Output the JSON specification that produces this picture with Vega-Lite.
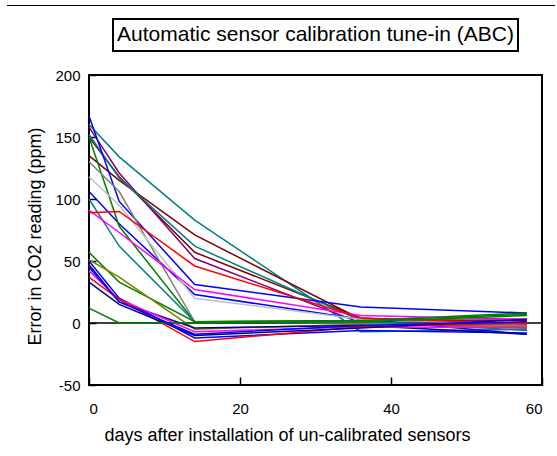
{
  "$schema": "https://vega.github.io/schema/vega-lite/v6.json",
  "background": "white",
  "autosize": {"type": "pad"},
  "padding": {"left": 7, "top": 5, "right": 0, "bottom": 0},
  "config": {
    "font": "Liberation Sans",
    "view": {"stroke": "black", "strokeWidth": 2},
    "axis": {"grid": false, "domain": false, "labelColor": "black", "titleColor": "black", "tickColor": "black", "labelFont": "Liberation Sans", "titleFont": "Liberation Sans", "titleFontWeight": "normal"}
  },
  "vconcat": [
    {"width": 548, "height": 1, "view": {"stroke": null, "fill": "black"}, "data": {"values": []}, "mark": "point"},
    {
      "hconcat": [
        {"width": 1, "height": 1, "view": {"stroke": null}, "data": {"values": []}, "mark": "point"},
        {
          "vconcat": [
            {
              "width": 405, "height": 32,
              "view": {"stroke": "black", "strokeWidth": 2},
              "data": {"values": [{"t": "Automatic sensor calibration tune-in (ABC)"}]},
              "mark": {"type": "text", "fontSize": 21, "font": "Liberation Sans", "color": "black", "align": "center", "baseline": "middle"},
              "encoding": {"text": {"field": "t"}}
            },
            {
              "width": 453, "height": 310,
              "view": {"stroke": "black", "strokeWidth": 2},
              "layer": [
                {
                  "data": {"values": [{}]},
                  "mark": {"type": "rule", "color": "black", "strokeWidth": 1.5},
                  "encoding": {"y": {"datum": 0, "type": "quantitative"}}
                },
                {
                  "data": {"values": [
                    {"s":"s1","d":0,"e":160},{"s":"s1","d":4,"e":134},{"s":"s1","d":14,"e":83},{"s":"s1","d":36,"e":-7},{"s":"s1","d":58,"e":-5},
                    {"s":"s2","d":0,"e":135},{"s":"s2","d":4,"e":115},{"s":"s2","d":14,"e":71},{"s":"s2","d":36,"e":3},{"s":"s2","d":58,"e":2},
                    {"s":"s3","d":0,"e":150},{"s":"s3","d":4,"e":118},{"s":"s3","d":14,"e":57},{"s":"s3","d":36,"e":4},{"s":"s3","d":58,"e":-2},
                    {"s":"s4","d":0,"e":158},{"s":"s4","d":4,"e":121},{"s":"s4","d":14,"e":52},{"s":"s4","d":36,"e":0},{"s":"s4","d":58,"e":3},
                    {"s":"s5","d":0,"e":152},{"s":"s5","d":4,"e":117},{"s":"s5","d":14,"e":62},{"s":"s5","d":36,"e":2},{"s":"s5","d":58,"e":-6},
                    {"s":"s6","d":0,"e":167},{"s":"s6","d":4,"e":98},{"s":"s6","d":14,"e":31},{"s":"s6","d":36,"e":13},{"s":"s6","d":58,"e":8},
                    {"s":"s7","d":0,"e":106},{"s":"s7","d":4,"e":80},{"s":"s7","d":14,"e":23},{"s":"s7","d":36,"e":3},{"s":"s7","d":58,"e":-9},
                    {"s":"s8","d":0,"e":150},{"s":"s8","d":4,"e":78},{"s":"s8","d":14,"e":1},{"s":"s8","d":36,"e":2},{"s":"s8","d":58,"e":8},
                    {"s":"s9","d":0,"e":130},{"s":"s9","d":4,"e":106},{"s":"s9","d":14,"e":1},{"s":"s9","d":36,"e":0},{"s":"s9","d":58,"e":-2},
                    {"s":"s10","d":0,"e":118},{"s":"s10","d":4,"e":95},{"s":"s10","d":14,"e":20},{"s":"s10","d":36,"e":3},{"s":"s10","d":58,"e":-1},
                    {"s":"s11","d":0,"e":100},{"s":"s11","d":4,"e":62},{"s":"s11","d":14,"e":1},{"s":"s11","d":36,"e":1},{"s":"s11","d":58,"e":-4},
                    {"s":"s12","d":0,"e":91},{"s":"s12","d":4,"e":73},{"s":"s12","d":14,"e":27},{"s":"s12","d":36,"e":6},{"s":"s12","d":58,"e":3},
                    {"s":"s13","d":0,"e":89},{"s":"s13","d":4,"e":90},{"s":"s13","d":14,"e":46},{"s":"s13","d":36,"e":4},{"s":"s13","d":58,"e":-1},
                    {"s":"s14","d":0,"e":57},{"s":"s14","d":4,"e":33},{"s":"s14","d":14,"e":1},{"s":"s14","d":36,"e":2},{"s":"s14","d":58,"e":7},
                    {"s":"s15","d":0,"e":51},{"s":"s15","d":4,"e":37},{"s":"s15","d":14,"e":-5},{"s":"s15","d":36,"e":-1},{"s":"s15","d":58,"e":-3},
                    {"s":"s16","d":0,"e":50},{"s":"s16","d":4,"e":20},{"s":"s16","d":14,"e":-12},{"s":"s16","d":36,"e":-6},{"s":"s16","d":58,"e":-8},
                    {"s":"s17","d":0,"e":47},{"s":"s17","d":4,"e":17},{"s":"s17","d":14,"e":-4},{"s":"s17","d":36,"e":-2},{"s":"s17","d":58,"e":-9},
                    {"s":"s18","d":0,"e":42},{"s":"s18","d":4,"e":19},{"s":"s18","d":14,"e":-7},{"s":"s18","d":36,"e":-3},{"s":"s18","d":58,"e":-4},
                    {"s":"s19","d":0,"e":37},{"s":"s19","d":4,"e":19},{"s":"s19","d":14,"e":-15},{"s":"s19","d":36,"e":-3},{"s":"s19","d":58,"e":0},
                    {"s":"s20","d":0,"e":33},{"s":"s20","d":4,"e":15},{"s":"s20","d":14,"e":-10},{"s":"s20","d":36,"e":-4},{"s":"s20","d":58,"e":3},
                    {"s":"s21","d":0,"e":12},{"s":"s21","d":4,"e":0},{"s":"s21","d":14,"e":0},{"s":"s21","d":36,"e":1},{"s":"s21","d":58,"e":6},
                    {"s":"s22","d":0,"e":45},{"s":"s22","d":4,"e":17},{"s":"s22","d":14,"e":-9},{"s":"s22","d":36,"e":-2},{"s":"s22","d":58,"e":1}
                  ]},
                  "mark": {"type": "line", "strokeWidth": 1.5},
                  "encoding": {
                    "x": {"field": "d", "type": "quantitative",
                      "scale": {"domain": [0, 60], "nice": false},
                      "axis": {"values": [0, 20, 40, 60], "tickSize": -8, "tickWidth": 1.5, "labelPadding": 24, "labelFontSize": 15, "labelExpr": "'' + datum.value",
                        "title": "days after installation of un-calibrated sensors", "titleFontSize": 18, "titleX": 198, "titleY": 50, "titleAlign": "center", "titleBaseline": "middle"}},
                    "y": {"field": "e", "type": "quantitative",
                      "scale": {"domain": [-50, 200], "nice": false},
                      "axis": {"values": [-50, 0, 50, 100, 150, 200], "tickSize": -7, "tickWidth": 1.5, "labelPadding": 16, "labelFontSize": 15, "labelExpr": "'' + datum.value",
                        "title": "Error in CO2 reading (ppm)", "titleFontSize": 18, "titleX": -54, "titleY": 161, "titleAlign": "center", "titleBaseline": "middle", "titleAngle": -90}},
                    "color": {"field": "s", "type": "nominal", "legend": null,
                      "scale": {
                        "domain": ["s1","s2","s3","s4","s5","s6","s7","s8","s9","s10","s11","s12","s13","s14","s15","s16","s17","s18","s19","s20","s21","s22"],
                        "range": ["#008080","#800000","#800000","#800080","#008080","#0000FF","#0000FF","#008000","#808080","#C0C0C0","#008080","#FF00FF","#FF0000","#008000","#808000","#0000FF","#000080","#FF00FF","#FF0000","#000080","#008000","#0000FF"]
                      }}
                  }
                }
              ]
            }
          ],
          "spacing": 24, "center": true, "bounds": "flush"
        }
      ],
      "spacing": 81, "bounds": "flush"
    }
  ],
  "spacing": 13, "bounds": "flush"
}
